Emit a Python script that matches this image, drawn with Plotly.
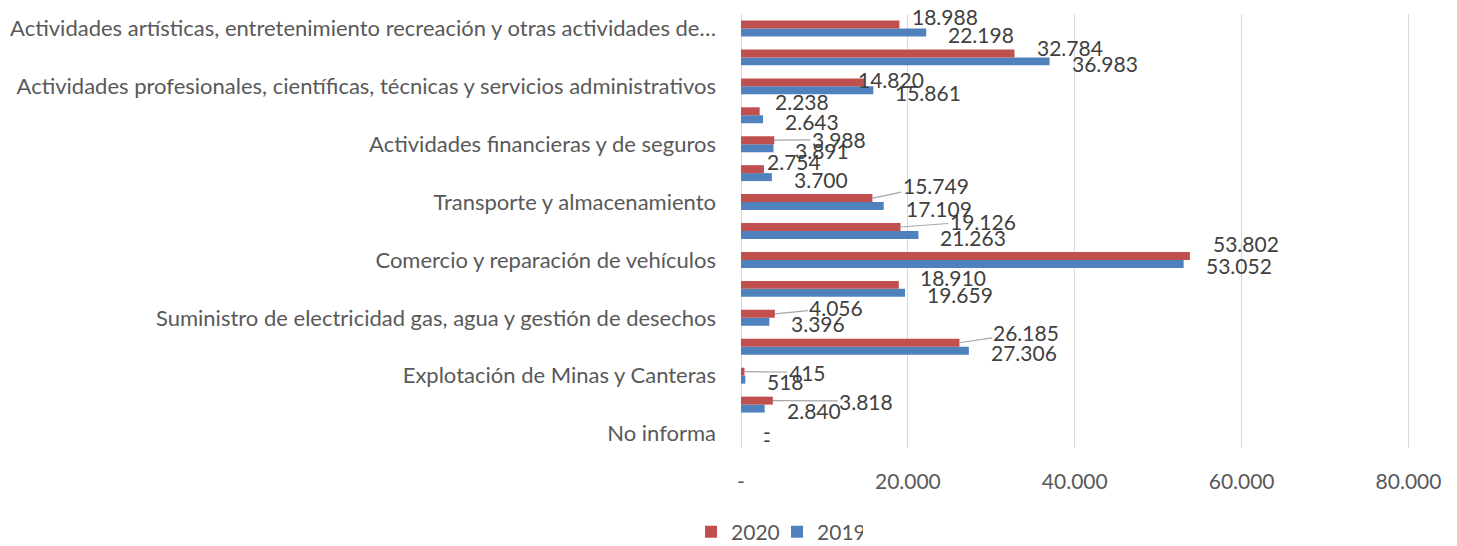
import plotly.graph_objects as go

# ---------------- data (bottom to top, as drawn) ----------------
categories = [
    "No informa",
    "Agricultura, ganadería, silvicultura y pesca",
    "Explotación de Minas y Canteras",
    "Industrias manufactureras",
    "Suministro de electricidad gas, agua y gestión de desechos",
    "Construcción",
    "Comercio y reparación de vehículos",
    "Alojamiento y servicios de comida",
    "Transporte y almacenamiento",
    "Información y comunicaciones",
    "Actividades financieras y de seguros",
    "Actividades inmobiliarias",
    "Actividades profesionales, científicas, técnicas y servicios administrativos",
    "Administración pública, enseñanza y salud",
    "Actividades artísticas, entretenimiento recreación y otras actividades de…",
]
values_2020 = [0, 3818, 415, 26185, 4056, 18910, 53802, 19126, 15749, 2754, 3988, 2238, 14820, 32784, 18988]
values_2019 = [0, 2840, 518, 27306, 3396, 19659, 53052, 21263, 17109, 3700, 3891, 2643, 15861, 36983, 22198]
shown_labels = categories[::2]
x_ticks = [0, 20000, 40000, 60000, 80000]
x_tick_text = ["-", "20.000", "40.000", "60.000", "80.000"]
series_names = ["2020", "2019"]

# ---------------- styles ----------------
RED = "#C0504D"
BLUE = "#4F81BD"
FONT = "Lato, 'Open Sans', sans-serif"
AXIS_COLOR = "#595959"
LABEL_COLOR = "#404040"

# label placement for the 2020 series (pixel offsets); leader = Excel-like callout line
red_leader = [False, True, True, True, True, False, False, True, True, False, True, False, False, False, False]
red_dx = [22, 93.5, 63, 67, 61.5, 21, 23, 82, 63.5, 3, 64.7, 15, -7, 22, 12.5]
red_dy = [2, 0.5, 0.5, -10, -6, 11, 16, -6, -13, 12, -0.5, 14, 6.5, 10, 11.5]


def fmt(v):
    return "-" if v == 0 else f"{v:,}".replace(",", ".")


fig = go.Figure()
fig.add_trace(go.Bar(
    y=categories, x=values_2019, orientation="h", name=series_names[1],
    marker=dict(color=BLUE, line=dict(width=0)), hoverinfo="skip",
))
fig.add_trace(go.Bar(
    y=categories, x=values_2020, orientation="h", name=series_names[0],
    marker=dict(color=RED, line=dict(width=0)), hoverinfo="skip",
))

annotations = []
lab_font = dict(family=FONT, size=21, color=LABEL_COLOR)
for i, cat in enumerate(categories):
    # 2019 labels
    annotations.append(dict(
        x=values_2019[i], y=cat, xref="x", yref="y", text=fmt(values_2019[i]),
        showarrow=False, xanchor="left", yanchor="middle", xshift=20, yshift=-6,
        font=lab_font,
    ))
    # 2020 labels
    if red_leader[i]:
        annotations.append(dict(
            x=values_2020[i], y=cat, xref="x", yref="y", text=fmt(values_2020[i]),
            showarrow=True, arrowhead=0, arrowwidth=1.2, arrowcolor="#A6A6A6",
            ax=red_dx[i], ay=red_dy[i], yshift=4,
            font=lab_font,
        ))
    else:
        annotations.append(dict(
            x=values_2020[i], y=cat, xref="x", yref="y", text=fmt(values_2020[i]),
            showarrow=False, xanchor="left", yanchor="middle",
            xshift=red_dx[i] - 2, yshift=red_dy[i],
            font=lab_font,
        ))

# the page body has an 8px default margin, so the figure is sized to fit the window
fig.update_layout(
    width=1449, height=538, autosize=False,
    margin=dict(l=733, r=46, t=5.5, b=97.5, pad=0, autoexpand=False),
    paper_bgcolor="white", plot_bgcolor="white",
    barmode="group", bargap=0.45, bargroupgap=0,
    font=dict(family=FONT, color=AXIS_COLOR),
    showlegend=True,
    legend=dict(
        orientation="h", x=-0.0746, xanchor="left", y=-0.194, yanchor="middle",
        traceorder="reversed", font=dict(family=FONT, size=21, color=AXIS_COLOR),
        itemwidth=30, entrywidth=41, bgcolor="rgba(0,0,0,0)",
    ),
    annotations=annotations,
    xaxis=dict(
        range=[0, 80300], tickmode="array", tickvals=x_ticks, ticktext=x_tick_text,
        showgrid=True, gridcolor="#D9D9D9", gridwidth=1,
        zeroline=True, zerolinecolor="#D9D9D9", zerolinewidth=1,
        showline=False, ticks="", ticklabelstandoff=19,
        tickfont=dict(family=FONT, size=21, color=AXIS_COLOR), automargin=False,
        fixedrange=True,
    ),
    yaxis=dict(
        type="category", categoryorder="array", categoryarray=categories,
        range=[-0.5, len(categories) - 0.5],
        tickmode="array", tickvals=shown_labels, ticktext=shown_labels,
        showgrid=False, zeroline=False, showline=False, ticks="",
        ticklabelstandoff=24,
        tickfont=dict(family=FONT, size=22, color=AXIS_COLOR), automargin=False,
        fixedrange=True,
    ),
)

fig.write_html("out.html")
